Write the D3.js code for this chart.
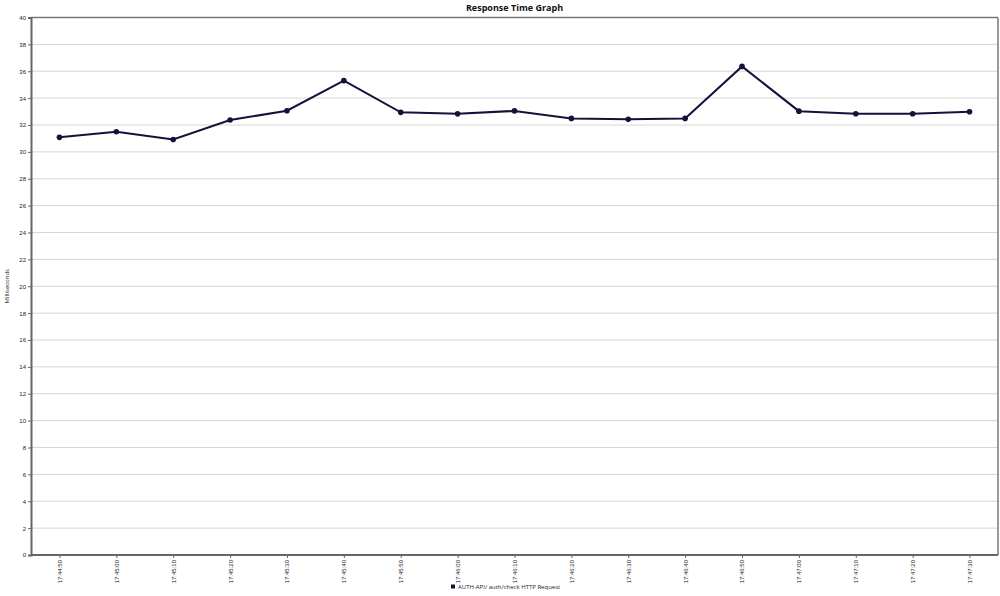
<!DOCTYPE html>
<html>
<head>
<meta charset="utf-8">
<script src="https://cdn.jsdelivr.net/npm/d3@7"></script>
<style>
body{margin:0;background:#fff;}
svg{display:block;font-family:"Open Sans","DejaVu Sans",sans-serif;}
</style>
</head>
<body>
<svg id="chart" width="1000" height="596"></svg>
<script>
const categories = ["17:44:50","17:45:00","17:45:10","17:45:20","17:45:30","17:45:40","17:45:50","17:46:00","17:46:10","17:46:20","17:46:30","17:46:40","17:46:50","17:47:00","17:47:10","17:47:20","17:47:30"];
const responseTimes = [31.08,31.5,30.92,32.37,33.06,35.3,32.94,32.83,33.05,32.49,32.42,32.49,36.36,33.03,32.84,32.84,32.99];
const yTicks = [0,2,4,6,8,10,12,14,16,18,20,22,24,26,28,30,32,34,36,38,40];
const seriesName = "AUTH-API/ auth/check HTTP Request";
const chartTitle = "Response Time Graph";
const yLabel = "Milliseconds";

const svg = d3.select("#chart");
const m = {left:31, top:17.5, right:2, bottom:41};
const W = 1000, H = 596;
const x = d3.scalePoint().domain(categories).range([m.left, W - m.right]).padding(0.5);
const y = d3.scaleLinear().domain([0,40]).range([H - m.bottom, m.top]);

// gridlines
svg.append("g").selectAll("line").data(yTicks.filter(d=>d>0)).join("line")
  .attr("x1", m.left).attr("x2", W - m.right)
  .attr("y1", d=>y(d)).attr("y2", d=>y(d))
  .attr("stroke", "#d6d6d6").attr("stroke-width", 1);

// frame top/right
svg.append("line").attr("x1", m.left).attr("x2", W-m.right).attr("y1", m.top).attr("y2", m.top)
  .attr("stroke","#777").attr("stroke-width",1.5);
svg.append("line").attr("x1", W-m.right).attr("x2", W-m.right).attr("y1", m.top).attr("y2", H-m.bottom)
  .attr("stroke","#777").attr("stroke-width",1.5);

// y axis
const yAxis = svg.append("g").attr("transform", `translate(${m.left},0)`)
  .call(d3.axisLeft(y).tickValues(yTicks).tickSize(3).tickPadding(2).tickFormat(d3.format("d")));
yAxis.select(".domain").attr("stroke","#666").attr("stroke-width",2);
yAxis.selectAll(".tick line").attr("stroke","#666");
yAxis.selectAll("text").attr("font-size","6px").attr("fill","#222");

// x axis
const xAxis = svg.append("g").attr("transform", `translate(0,${H-m.bottom})`)
  .call(d3.axisBottom(x).tickSize(3).tickSizeOuter(0));
xAxis.select(".domain").attr("stroke","#666").attr("stroke-width",2)
  .attr("d", `M${m.left},0H${W-m.right}`);
xAxis.selectAll(".tick line").attr("stroke","#666");
xAxis.selectAll("text").attr("font-size","6px").attr("fill","#222")
  .attr("text-anchor","end").attr("transform","rotate(-90)")
  .attr("x",-5).attr("y",0).attr("dy","0.32em");

// line
const line = d3.line().x((d,i)=>x(categories[i])).y(d=>y(d));
svg.append("path").datum(responseTimes).attr("d", line)
  .attr("fill","none").attr("stroke","#14123a").attr("stroke-width",2);
svg.append("g").selectAll("circle").data(responseTimes).join("circle")
  .attr("cx",(d,i)=>x(categories[i])).attr("cy",d=>y(d)).attr("r",2.8)
  .attr("fill","#14123a");

// title
svg.append("text").attr("x", (m.left + W - m.right)/2).attr("y", 11)
  .attr("text-anchor","middle").attr("font-size","9px").attr("font-weight","bold")
  .attr("fill","#111").text(chartTitle);

// y label
svg.append("text").attr("transform", `translate(9,${(m.top + H - m.bottom)/2}) rotate(-90)`)
  .attr("text-anchor","middle").attr("font-size","6px").attr("fill","#222").text(yLabel);

// legend
const lg = svg.append("g").attr("transform","translate(451,587)");
lg.append("rect").attr("x",0).attr("y",-2.5).attr("width",4).attr("height",4).attr("fill","#14123a");
lg.append("text").attr("x",7).attr("y",0).attr("dy","0.35em").attr("font-size","6px").attr("fill","#222").text(seriesName);
</script>
</body>
</html>
